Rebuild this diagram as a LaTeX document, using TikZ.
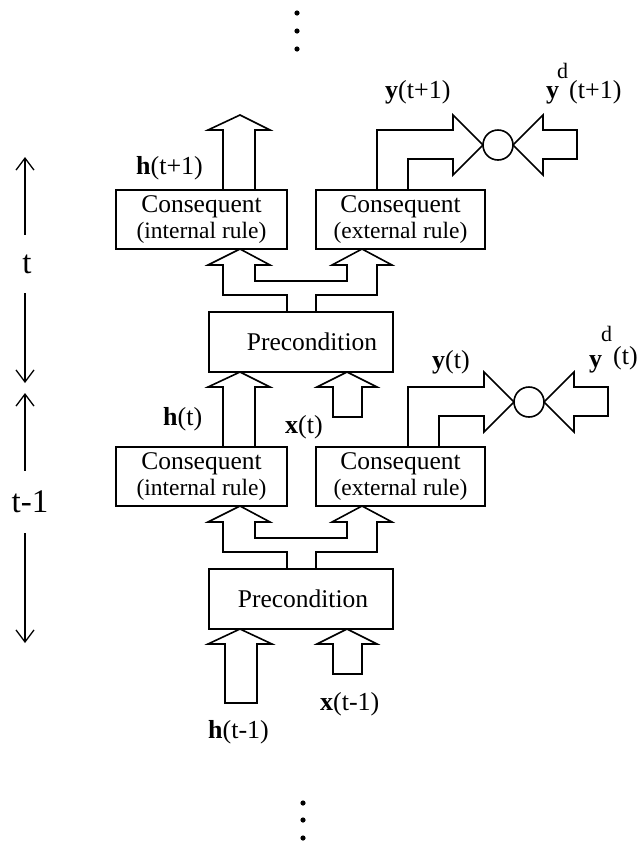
\documentclass[tikz,border=0pt]{standalone}
\usepackage{fontspec}
\setmainfont{Liberation Serif}
\usetikzlibrary{arrows.meta}

\tikzset{
  rulebox/.style={draw, line width=1.6pt, inner sep=0pt, outer sep=0pt, align=center, minimum height=59pt},
  blockarrow/.style={line width=1.6pt, line join=miter},
  comparator/.style={circle, draw, line width=1.6pt, inner sep=0pt, outer sep=0pt, minimum size=30pt},
  sig/.style={inner sep=0pt, anchor=base west, font=\fontsize{26}{30}\selectfont},
  supd/.style={inner sep=0pt, anchor=base west, font=\fontsize{22}{24}\selectfont},
  timelbl/.style={inner sep=0pt, outer ysep=20pt, font=\fontsize{33}{38}\selectfont},
  timearrow/.style={line width=1.3pt, -{Straight Barb[length=12pt, width=18pt]}},
}
\newcommand{\headfont}{\fontsize{25.5}{27}\selectfont}
\newcommand{\rulefont}{\fontsize{23.5}{27}\selectfont}

\begin{document}
\begin{tikzpicture}[x=1pt, y=-1pt]
    \useasboundingbox (0,0) rectangle (637,844);

    \foreach \off/\dx/\px/\st in {0/0/11/1, 257/31/2/2} {
      \begin{scope}[yshift=-\off pt]
        % Precondition block
        \node[rulebox, minimum width=184pt, minimum height=60pt] (pre\st) at (301,342) {};
        \node[inner sep=0pt, font=\headfont] (pretxt\st) at ([xshift=\px pt]pre\st.center) {Precondition};
        % Consequent blocks
        \node[rulebox, minimum width=171pt] (cint\st) at (201.5,219.5) {\headfont Consequent\\[4pt]\rulefont (internal rule)};
        \node[rulebox, minimum width=169pt] (cext\st) at (400.5,219.5) {\headfont Consequent\\[4pt]\rulefont (external rule)};
        % Split arrow into both consequents
        \draw[blockarrow] ([xshift=-14pt]pre\st.north) -- (287,295) -- (223,295) -- (223,265) -- (208,265)
            -- ([xshift=38.5pt]cint\st.south) -- (270,265) -- (255,265) -- (255,281) -- (347,281) -- (347,265) -- (332,265)
            -- ([xshift=-38.5pt]cext\st.south) -- (392,265) -- (377,265) -- (377,295) -- (316,295) -- ([xshift=15pt]pre\st.north);
        % Hidden state arrow
        \draw[blockarrow] ([xshift=21.5pt]cint\st.north) -- (223,130) -- (208,130) -- (240,115) -- (270,130) -- (255,130) -- ([xshift=53.5pt]cint\st.north);
        % Input arrow
        \draw[blockarrow] ([xshift=46pt]pre\st.south) -- (377,387) -- (362,387) -- (362,417) -- (333,417) -- (333,387) -- (317,387) -- cycle;
        % Output and target into the comparator
        \begin{scope}[xshift=\dx pt]
          \node[comparator] (cmp\st) at (498,145) {};
          \draw[blockarrow] (377,190) -- (377,130) -- (453,130) -- (453,115) -- (cmp\st.west) -- (453,175) -- (453,159) -- (408,159) -- (408,190);
          \draw[blockarrow] (cmp\st.east) -- (543,115) -- (543,130) -- (577,130) -- (577,159) -- (543,159) -- (543,175) -- cycle;
        \end{scope}
      \end{scope}
    }

    % Hidden state entering from below
    \draw[blockarrow] ([xshift=-61pt]pre2.south) -- (272,644) -- (257,644) -- (257,703) -- (225,703) -- (225,644) -- (208,644) -- cycle;

    % Signal labels
    \node[sig] (hnext) at (136,174) {\textbf{h}(t+1)};
    \node[sig] (hcur) at (163,425) {\textbf{h}(t)};
    \node[sig] (hprev) at (208,738) {\textbf{h}(t-1)};
    \node[sig] (xcur) at (285,433) {\textbf{x}(t)};
    \node[sig] (xprev) at (320,710) {\textbf{x}(t-1)};
    \node[sig] (ynext) at (385,98) {\textbf{y}(t+1)};
    \node[sig] (ycur) at (432,368) {\textbf{y}(t)};
    \node[sig] (ydnext) at (546,98) {\textbf{y}};
    \node[supd] (dnext) at (557,78) {d};
    \node[sig] (tdnext) at (569,98) {(t+1)};
    \node[sig] (ydcur) at (589,367) {\textbf{y}};
    \node[supd] (dcur) at (601,341) {d};
    \node[sig] (tdcur) at (613,364) {(t)};

    % Time steps
    \node[timelbl] (tcur) at (27,264) {t};
    \node[timelbl] (tprev) at (30,502) {t-1};
    \coordinate (tcurTop) at (25,157);
    \coordinate (tcurBot) at (25,383);
    \coordinate (tprevTop) at (25,393);
    \coordinate (tprevBot) at (25,643);
    \draw[timearrow] (tcur.north -| tcurTop) -- (tcurTop);
    \draw[timearrow] (tcur.south -| tcurBot) -- (tcurBot);
    \draw[timearrow] (tprev.north -| tprevTop) -- (tprevTop);
    \draw[timearrow] (tprev.south -| tprevBot) -- (tprevBot);

    % Continuation dots
    \foreach \yy in {13,31,49} {
        \fill (297,\yy) circle[radius=2.6pt];
    }
    \foreach \yy in {803,820,838} {
        \fill (303,\yy) circle[radius=2.6pt];
    }
\end{tikzpicture}
\end{document}
